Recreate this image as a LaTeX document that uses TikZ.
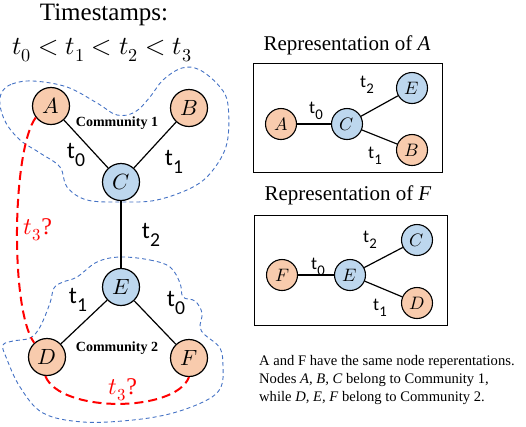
\documentclass[tikz,border=0pt]{standalone}
\usepackage{graphicx}
\usepackage{fontspec}
\usepackage{unicode-math}
\setmainfont{Liberation Serif}
\setmathfont{Latin Modern Math}
\newfontfamily\calib{Carlito}
\definecolor{peach}{HTML}{F8CBAD}
\definecolor{sky}{HTML}{BDD7EE}
\definecolor{commblue}{HTML}{4472C4}
\newcommand\tsub[1]{{\calib t\kern0.3pt\raisebox{-0.3em}{\scalebox{0.82}{#1}}}}
\begin{document}
\begin{tikzpicture}[x=1pt,y=-1pt,
  bignode/.style={circle,draw=black,line width=1.2pt,minimum size=37pt,inner sep=0pt,font=\fontsize{22}{22}\selectfont},
  smallnode/.style={circle,draw=black,line width=1.1pt,minimum size=31pt,inner sep=0pt,font=\fontsize{18}{18}\selectfont},
  org/.style={fill=peach}, blu/.style={fill=sky},
  edge/.style={line width=1.2pt},
  tlab/.style={font=\fontsize{24}{24}\selectfont, inner sep=0pt},
  tlabs/.style={font=\fontsize{18}{18}\selectfont, inner sep=0pt},
  comm/.style={draw=commblue, line width=0.9pt, dash pattern=on 4pt off 3pt},
  guess/.style={draw=red, line width=2pt, dash pattern=on 9pt off 5pt},
  qlab/.style={text=red, inner sep=0pt, font=\fontsize{24}{24}\selectfont},
  clab/.style={font=\bfseries\fontsize{14}{14}\selectfont, inner sep=0pt},
  title/.style={inner sep=0pt, font=\fontsize{21}{21}\selectfont},
  panel/.style={draw=black, line width=1pt, inner sep=0pt},
]
\useasboundingbox (0,0) rectangle (526,426);

% community outlines
\draw[comm] plot[smooth cycle, tension=0.6] coordinates {(2,92) (12,84) (33,81) (67,87) (97,103) (117,115) (135,112) (150,97) (163,80) (182,68) (200,70) (220,87) (228,105) (227,143) (213,170) (193,187) (157,200) (123,202) (87,200) (67,187) (60,167) (40,153) (20,140) (6,123) (0,105)};
\draw[comm] plot[smooth cycle, tension=0.6] coordinates {(120,257) (150,260) (170,267) (180,283) (183,297) (195,301) (202,313) (200,327) (205,335) (220,348) (223,367) (221,387) (207,400) (173,413) (133,420) (83,422) (43,413) (20,387) (6,357) (3,345) (13,341) (30,338) (40,327) (50,303) (54,288) (63,282) (77,277) (97,262)};

% title
\node[inner sep=0pt, font=\fontsize{25}{25}\selectfont] (ts) at (104,15) {Timestamps:};
\node[inner sep=0pt, font=\fontsize{26}{26}\selectfont] (tsm) at (102,50) {$t_0<t_1<t_2<t_3$};

% main graph
\node[bignode,org] (A) at (51,106) {$A$};
\node[bignode,org] (B) at (189,108) {$B$};
\node[bignode,blu] (C) at (121,182) {$C$};
\node[bignode,blu] (E) at (121,287) {$E$};
\node[bignode,org] (D) at (47,357) {$D$};
\node[bignode,org] (F) at (189,358) {$F$};
\draw[edge] (A) -- (C);
\draw[edge] (B) -- (C);
\draw[edge] (C) -- (E);
\draw[edge] (E) -- (D);
\draw[edge] (E) -- (F);
\node[tlab] (l1) at (76,155) {\tsub{0}};
\node[tlab] (l2) at (174,162) {\tsub{1}};
\node[tlab] (l3) at (151,235) {\tsub{2}};
\node[tlab] (l4) at (78,300) {\tsub{1}};
\node[tlab] (l5) at (176,303) {\tsub{0}};
\node[clab] (c1) at (117,123) {Community 1};
\node[clab] (c2) at (117,348) {Community 2};

\draw[guess] (A.217) .. controls (12,150) and (10,310) .. (D.132);
\draw[guess] (D.-95) .. controls (60,413) and (175,413) .. (F.-90);
\node[qlab] (q1) at (38,230) {$t_3$?};
\node[qlab] (q2) at (123,390) {$t_3$?};

% representation of A
\node[title] (ta) at (347,45) {Representation of \textit{A}};
\node[panel, minimum width=189pt, minimum height=109pt] (boxA) at (347.5,117.5) {};
\node[smallnode,org] (rA) at (281,124) {$A$};
\node[smallnode,blu] (rC) at (347,124) {$C$};
\node[smallnode,blu] (rE) at (412,88) {$E$};
\node[smallnode,org] (rB) at (412,150) {$B$};
\draw[edge] (rA) -- (rC);
\draw[edge] (rC) -- (rE);
\draw[edge] (rC) -- (rB);
\node[tlabs] (m1) at (316,111) {\tsub{0}};
\node[tlabs] (m2) at (367,85) {\tsub{2}};
\node[tlabs] (m3) at (375,156) {\tsub{1}};

% representation of F
\node[title] (tf) at (348,195) {Representation of \textit{F}};
\node[panel, minimum width=193pt, minimum height=110pt] (boxF) at (350.5,270) {};
\node[smallnode,org] (rF) at (282,275) {$F$};
\node[smallnode,blu] (rE2) at (350,275) {$E$};
\node[smallnode,blu] (rC2) at (417,240) {$C$};
\node[smallnode,org] (rD2) at (417,303) {$D$};
\draw[edge] (rF) -- (rE2);
\draw[edge] (rE2) -- (rC2);
\draw[edge] (rE2) -- (rD2);
\node[tlabs] (n1) at (318,267) {\tsub{0}};
\node[tlabs] (n2) at (370,240) {\tsub{2}};
\node[tlabs] (n3) at (380,308) {\tsub{1}};

% caption
\node[anchor=west, align=left, inner sep=0pt, font=\fontsize{14.6}{18}\selectfont] (cap) at (259,380) {A and F have the same node reperentations.\\Nodes \textit{A, B, C} belong to Community 1,\\while \textit{D, E, F} belong to Community 2.};
\end{tikzpicture}
\end{document}
